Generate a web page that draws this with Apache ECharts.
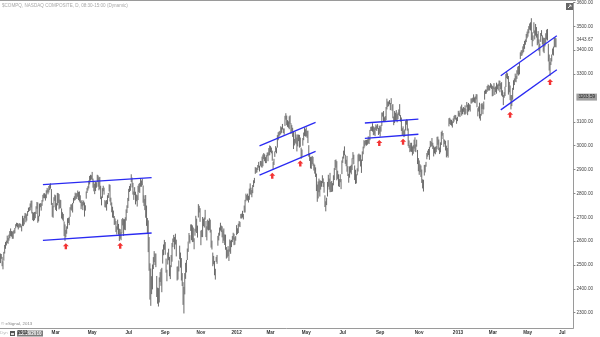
<!DOCTYPE html>
<html>
<head>
<meta charset="utf-8">
<script src="https://cdn.jsdelivr.net/npm/echarts@6/dist/echarts.min.js"></script>
<style>
  html, body { margin: 0; padding: 0; background: #fff; }
  #chart { width: 600px; height: 337px; }
</style>
</head>
<body>
<div id="chart"></div>
<script>
// $COMPQ daily bars, [low, high] per session, Nov 24 2010 .. Jul 3 2013
const bars2010 = [
  [2510,2546],[2528,2544],[2497,2532],[2484,2514],
  [2520,2553],[2550,2582],[2570,2594],[2584,2600],[2594,2621],[2591,2611],[2604,2625],[2614,2640],[2623,2651],[2621,2640],[2612,2638],[2612,2640],[2633,2645],[2635,2653],[2656,2669],[2664,2675],[2660,2674],[2651,2669],[2658,2673],[2662,2672],[2659,2670],[2643,2663]
];
const bars2011 = [
  [2666,2704],[2665,2694],[2672,2704],[2698,2716],[2681,2714],[2688,2710],[2708,2724],[2724,2738],[2728,2741],[2731,2756],[2743,2767],[2718,2768],[2690,2720],[2686,2717],[2690,2720],[2698,2721],[2716,2744],[2738,2762],[2679,2760],[2685,2704],
  [2706,2755],[2744,2757],[2730,2756],[2750,2770],[2768,2792],[2782,2798],[2782,2799],[2772,2794],[2782,2811],[2805,2821],[2798,2814],[2806,2829],[2816,2834],[2822,2840],[2754,2816],[2704,2758],[2700,2744],[2744,2782],[2771,2793],
  [2733,2790],[2728,2757],[2752,2800],[2762,2799],[2735,2795],[2740,2772],[2740,2770],[2697,2735],[2692,2719],[2685,2712],[2623,2680],[2603,2668],[2618,2645],[2633,2660],[2654,2694],[2678,2695],[2669,2700],[2704,2740],[2734,2752],[2730,2752],[2722,2758],[2761,2779],[2772,2786],
  [2774,2801],[2780,2797],[2779,2800],[2788,2810],[2774,2804],[2768,2806],[2762,2790],[2736,2765],[2748,2770],[2732,2762],[2752,2768],[2705,2760],[2730,2748],[2780,2806],[2804,2821],[2814,2828],[2823,2852],[2840,2871],[2856,2876],[2861,2874],
  [2858,2888],[2826,2860],[2811,2848],[2799,2838],[2812,2846],[2826,2845],[2850,2876],[2830,2873],[2815,2865],[2820,2867],[2778,2830],[2752,2785],[2783,2820],[2811,2830],[2797,2822],[2744,2770],[2743,2765],[2730,2770],[2757,2790],[2783,2800],[2810,2836],
  [2768,2834],[2752,2780],[2723,2760],[2701,2742],[2699,2726],[2670,2703],[2672,2693],[2640,2682],[2630,2660],[2650,2688],[2629,2670],[2603,2650],[2612,2648],[2606,2635],[2634,2690],[2668,2695],[2624,2690],[2650,2690],[2648,2698],[2688,2731],[2720,2748],[2741,2779],
  [2770,2817],[2808,2829],[2813,2839],[2850,2878],[2827,2864],[2797,2842],[2775,2806],[2795,2824],[2756,2805],[2769,2793],[2747,2790],[2774,2830],[2808,2838],[2804,2842],[2830,2862],[2830,2852],[2836,2859],[2763,2831],[2749,2790],[2732,2775],
  [2700,2791],[2666,2747],[2633,2695],[2556,2685],[2478,2615],[2357,2505],[2331,2483],[2380,2451],[2400,2500],[2485,2531],[2514,2556],[2502,2546],[2493,2546],[2368,2452],[2340,2403],[2328,2401],[2345,2446],[2431,2468],[2415,2480],[2388,2486],[2508,2563],[2543,2584],[2566,2603],
  [2545,2594],[2470,2525],[2434,2478],[2504,2550],[2522,2566],[2455,2532],[2443,2497],[2493,2540],[2516,2590],[2577,2609],[2598,2624],[2568,2615],[2588,2629],[2538,2604],[2437,2491],[2441,2492],[2475,2517],[2526,2579],[2491,2550],[2437,2527],[2414,2464],
  [2335,2426],[2299,2406],[2379,2464],[2444,2507],[2471,2519],[2523,2567],[2557,2596],[2599,2632],[2592,2623],[2645,2668],[2606,2668],[2598,2664],[2599,2655],[2568,2610],[2625,2650],[2642,2704],[2636,2692],[2617,2663],[2701,2753],[2722,2746],[2683,2736],
  [2585,2642],[2619,2645],[2619,2699],[2665,2692],[2659,2697],[2692,2729],[2619,2683],[2605,2660],[2650,2688],[2647,2683],[2649,2694],[2638,2688],[2575,2646],[2567,2600],[2497,2550],[2505,2536],[2459,2515],[2441,2482],[2515,2532],[2507,2540],[2583,2620],
  [2605,2633],[2625,2655],[2646,2675],[2640,2663],[2618,2660],[2594,2643],[2604,2651],[2586,2626],[2566,2625],[2529,2573],[2533,2562],[2539,2577],[2519,2563],[2558,2605],[2549,2600],[2577,2603],[2598,2619],[2608,2633],[2585,2629],[2587,2614],[2604,2619]
];
const bars2012 = [
  [2627,2665],[2632,2652],[2636,2671],[2664,2682],[2661,2679],[2697,2712],[2697,2713],[2701,2725],[2693,2712],[2722,2747],[2722,2771],[2769,2797],[2775,2791],[2772,2797],[2764,2788],[2775,2818],[2799,2840],[2796,2822],[2786,2812],[2803,2833],
  [2829,2853],[2845,2863],[2884,2908],[2888,2905],[2890,2906],[2900,2917],[2910,2930],[2894,2914],[2918,2934],[2912,2933],[2910,2952],[2916,2961],[2946,2967],[2937,2962],[2929,2950],[2929,2958],[2958,2969],[2937,2970],[2961,2988],[2962,2999],
  [2975,2996],[2970,2990],[2939,2977],[2901,2931],[2921,2943],[2955,2974],[2975,2996],[2970,2990],[2994,3042],[3025,3054],[3040,3057],[3046,3060],[3050,3079],[3056,3075],[3070,3089],[3055,3070],[3048,3070],[3085,3123],[3111,3134],[3088,3124],[3081,3105],[3077,3100],
  [3071,3121],[3094,3125],[3051,3092],[3061,3084],[3039,3073],[2988,3058],[3003,3026],[3014,3057],[3008,3045],[2978,3032],[2999,3045],[3021,3044],[2994,3043],[2997,3032],[2947,2990],[2955,2982],[3002,3030],[3025,3053],[3043,3075],[3040,3067],
  [3041,3075],[3035,3060],[3013,3061],[2956,3000],[2938,2966],[2907,2951],[2905,2951],[2925,2955],[2918,2951],[2898,2923],[2885,2918],[2871,2907],[2812,2881],[2767,2835],[2781,2848],[2807,2860],[2789,2852],[2818,2852],[2830,2850],[2845,2874],[2829,2861],[2805,2846],
  [2745,2790],[2727,2765],[2753,2780],[2789,2846],[2830,2876],[2818,2860],[2807,2884],[2808,2846],[2808,2850],[2810,2841],[2836,2874],[2858,2904],[2900,2938],[2910,2940],[2857,2933],[2863,2893],[2832,2878],[2829,2858],[2849,2878],[2820,2858],[2883,2936],
  [2930,2952],[2948,2977],[2962,2995],[2926,2960],[2916,2939],[2893,2955],[2875,2912],[2847,2880],[2868,2911],[2889,2913],[2882,2918],[2900,2945],[2946,2971],[2924,2960],[2858,2915],[2842,2897],[2844,2878],[2878,2903],[2894,2961],[2936,2965],[2938,2961],
  [2915,2960],[2888,2940],[2938,2974],[2966,2994],[2991,3021],[2999,3018],[3006,3022],[3002,3022],[3006,3024],[3011,3037],[3009,3032],[3025,3064],[3064,3077],[3064,3078],[3061,3092],[3046,3079],[3048,3073],[3042,3077],[3068,3087],[3064,3082],[3073,3088],[3047,3072],[3052,3082],
  [3040,3078],[3061,3084],[3085,3137],[3124,3137],[3103,3143],[3101,3117],[3102,3122],[3109,3160],[3154,3195],[3164,3183],[3168,3183],[3175,3189],[3151,3177],[3175,3197],[3149,3170],[3117,3172],[3088,3120],[3097,3143],[3107,3136],
  [3106,3147],[3100,3130],[3114,3137],[3131,3150],[3126,3172],[3103,3126],[3064,3116],[3047,3071],[3047,3079],[3038,3061],[3041,3066],[3066,3103],[3090,3108],[3065,3107],[3000,3070],[2992,3020],[2975,3000],[2978,3010],[2976,3010],[2961,2995],[2968,3000],
  [2990,3023],[2978,3033],[2975,3003],[2998,3023],[2925,2980],[2895,2946],[2880,2936],[2891,2920],[2871,2915],[2846,2898],[2823,2857],[2810,2855],[2877,2917],[2890,2918],[2914,2930],[2945,2967],[2956,2977],[2963,2984],[2943,2993],[2995,3018],[2998,3014],
  [3000,3030],[2988,3010],[2957,2998],[2970,2991],[2966,2993],[2975,2996],[2987,3035],[3006,3036],[2983,3024],[2967,2990],[2974,3012],[3005,3056],[3044,3061],[3030,3051],[2997,3026],[3008,3022],[2982,3018],[2953,2998],[2959,2988],[2952,3021]
];
const bars2013 = [
  [3083,3113],[3093,3115],[3089,3108],[3086,3106],[3078,3100],[3097,3112],[3103,3123],[3113,3127],[3111,3126],[3094,3115],[3105,3119],[3124,3144],[3125,3136],[3122,3145],[3144,3162],[3128,3170],[3134,3154],[3144,3160],[3133,3156],[3132,3167],[3136,3154],
  [3162,3181],[3130,3170],[3145,3177],[3151,3171],[3145,3170],[3178,3196],[3180,3196],[3184,3199],[3186,3213],[3182,3200],[3180,3204],[3196,3214],[3163,3213],[3125,3155],[3145,3162],[3116,3178],[3107,3131],[3128,3173],[3156,3177],
  [3134,3171],[3154,3183],[3195,3228],[3219,3233],[3220,3233],[3228,3248],[3235,3254],[3232,3252],[3234,3248],[3245,3260],[3240,3255],[3209,3249],[3211,3246],[3239,3260],[3215,3242],[3227,3246],[3220,3262],[3239,3254],[3233,3258],[3252,3271],
  [3226,3270],[3239,3260],[3212,3264],[3207,3230],[3172,3210],[3203,3222],[3210,3245],[3248,3298],[3285,3307],[3281,3301],[3216,3290],[3226,3265],[3193,3250],[3154,3210],[3168,3210],[3195,3240],[3236,3272],[3256,3280],[3270,3300],[3268,3290],[3282,3314],[3301,3329],
  [3296,3332],[3301,3346],[3365,3389],[3378,3397],[3380,3399],[3389,3414],[3395,3424],[3408,3437],[3425,3443],[3436,3466],[3452,3476],[3459,3486],[3473,3499],[3488,3510],[3485,3515],[3445,3532],[3418,3473],[3440,3460],[3473,3515],[3447,3481],[3463,3508],[3455,3495],
  [3423,3466],[3430,3478],[3398,3443],[3379,3425],[3437,3470],[3461,3482],[3426,3460],[3396,3451],[3390,3449],[3418,3450],[3432,3469],[3447,3484],[3443,3487],[3355,3425],[3317,3380],[3295,3348],[3340,3365],[3355,3380],[3383,3405],[3380,3413],
  [3414,3451],[3416,3451],[3414,3448]
];

const lastClose = 3443.67;
const markedPrice = 3203.59;
const priceTicks = [2300, 2400, 2500, 2600, 2700, 2800, 2900, 3000, 3100, 3300, 3400, 3500, 3600];

// Channel lines: [startDate, startPrice, endDate, endPrice]
const channelLines = [
  ['2011-02-07', 2837, '2011-08-10', 2866],
  ['2011-02-07', 2603, '2011-08-10', 2634],
  ['2012-02-10', 2999, '2012-05-16', 3098],
  ['2012-02-10', 2877, '2012-05-16', 2976],
  ['2012-08-08', 3095, '2012-11-08', 3111],
  ['2012-08-08', 3031, '2012-11-08', 3048],
  ['2013-04-02', 3293, '2013-07-05', 3461],
  ['2013-04-02', 3150, '2013-07-05', 3318]
];
// Support touches marked with arrows: [date, price]
const supportArrows = [
  ['2011-03-17', 2579], ['2011-06-17', 2581],
  ['2012-03-05', 2874], ['2012-04-20', 2925],
  ['2012-08-31', 3011], ['2012-10-11', 3016],
  ['2013-04-17', 3130], ['2013-06-24', 3267]
];

const firstSession = '2010-11-24';
const blankSessions = 20;
const marketHolidays = [
  '2010-11-25','2010-12-24','2011-01-17','2011-02-21','2011-04-22','2011-05-30','2011-07-04',
  '2011-09-05','2011-11-24','2011-12-26','2012-01-02','2012-01-16','2012-02-20','2012-04-06',
  '2012-05-28','2012-07-04','2012-09-03','2012-10-29','2012-10-30','2012-11-22','2012-12-25',
  '2013-01-01','2013-01-21','2013-02-18','2013-03-29','2013-05-27','2013-07-04'
];
const monthNames = ['Jan','Feb','Mar','Apr','May','Jun','Jul','Aug','Sep','Oct','Nov','Dec'];
// extra left padding (px) for some month labels on the time scale
const labelPad = { '2012-11': 10, '2013-01': 18, '2013-03': 20, '2013-05': 18, '2013-07': 16 };

const bars = [].concat(bars2010, bars2011, bars2012, bars2013);

function tradingDays(start, count, holidays) {
  const out = [];
  const d = new Date(start + 'T12:00:00Z');
  while (out.length < count) {
    const dow = d.getUTCDay();
    const s = d.toISOString().slice(0, 10);
    if (dow !== 0 && dow !== 6 && holidays.indexOf(s) < 0) out.push(s);
    d.setUTCDate(d.getUTCDate() + 1);
  }
  return out;
}
const sessions = tradingDays(firstSession, bars.length + blankSessions, marketHolidays);

function isLabelSession(i) {
  if (i === 0) return false;
  const m = +sessions[i].slice(5, 7);
  const pm = +sessions[i - 1].slice(5, 7);
  return m !== pm && m % 2 === 1;
}

const barData = bars.map((b, i) => [i, b[0], b[1]]);

const FONT = 'Liberation Sans, Arial, sans-serif';
const chart = echarts.init(document.getElementById('chart'), null, { renderer: 'canvas' });

const series = [{
  type: 'custom',
  name: '$COMPQ',
  data: barData,
  encode: { x: 0, y: [1, 2] },
  clip: true,
  renderItem: function (params, api) {
    const lo = api.coord([api.value(0), api.value(1)]);
    const hi = api.coord([api.value(0), api.value(2)]);
    return {
      type: 'line',
      shape: { x1: lo[0], y1: lo[1] + 0.5, x2: hi[0], y2: hi[1] - 0.5 },
      style: { stroke: '#6a6a6a', lineWidth: 1 }
    };
  }
}];

channelLines.forEach(function (l) {
  series.push({
    type: 'line',
    data: [[l[0], l[1]], [l[2], l[3]]],
    symbol: 'none',
    silent: true,
    lineStyle: { color: '#2a2af2', width: 1.3 },
    z: 3
  });
});

series.push({
  type: 'scatter',
  data: supportArrows,
  symbol: 'path://M5,0 L10,5 L7,5 L7,10 L3,10 L3,5 L0,5 Z',
  symbolSize: [6, 6],
  itemStyle: { color: '#f00000' },
  silent: true,
  z: 4
});

const padRich = {};
[0, 10, 16, 18, 20].forEach(function (p) {
  padRich['p' + p] = { padding: [0, 0, 0, p], fontFamily: FONT, fontSize: 4.6, fontWeight: 'bold', color: '#333' };
});

chart.setOption({
  animation: false,
  backgroundColor: '#fff',
  grid: { left: 0, right: 24, top: 1, bottom: 9, containLabel: false },
  xAxis: {
    type: 'category',
    data: sessions,
    boundaryGap: true,
    axisLine: { show: true, lineStyle: { color: '#9a9a9a', width: 1 } },
    axisTick: { show: false },
    axisLabel: {
      interval: function (i) { return isLabelSession(i); },
      formatter: function (v) {
        const m = +v.slice(5, 7);
        const txt = m === 1 ? v.slice(0, 4) : monthNames[m - 1];
        const p = labelPad[v.slice(0, 7)] || 0;
        return '{p' + p + '|' + txt + '}';
      },
      fontFamily: FONT, fontSize: 4.6, fontWeight: 'bold', color: '#333',
      margin: 2,
      rich: padRich
    },
    splitLine: { show: false }
  },
  yAxis: {
    type: 'value',
    position: 'right',
    min: 2236,
    max: 3600,
    axisLine: { show: true, lineStyle: { color: '#9a9a9a', width: 1 } },
    axisTick: { show: true, length: 2, customValues: priceTicks, lineStyle: { color: '#888' } },
    axisLabel: {
      customValues: priceTicks.concat([lastClose, markedPrice]),
      formatter: function (v) {
        const s = v.toFixed(2);
        return v === markedPrice ? '{box|' + s + '}' : s;
      },
      fontFamily: FONT, fontSize: 4.6, color: '#444', margin: 3,
      rich: {
        box: { backgroundColor: '#a0a0a0', color: '#222', fontSize: 4.6, fontFamily: FONT, padding: [1, 2, 1, 2] }
      }
    },
    splitLine: { show: false }
  },
  series: series,
  graphic: [
    { type: 'line', shape: { x1: 0, y1: 0.5, x2: 576, y2: 0.5 }, style: { stroke: '#9a9a9a', lineWidth: 1 } },
    { type: 'text', left: 2, top: 3, style: { text: '$COMPQ, NASDAQ COMPOSITE, D, 08:30-15:00 (Dynamic)', fontFamily: FONT, fontSize: 4.6, fill: '#a8a8a8' } },
    { type: 'text', left: 1, top: 322, style: { text: '\u00a9 eSignal, 2013', fontFamily: FONT, fontSize: 4.4, fill: '#888' } },
    { type: 'text', left: 0, top: 331, style: { text: 'Dyn', fontFamily: FONT, fontSize: 4.4, fill: '#bbb' } },
    { type: 'rect', shape: { x: 10, y: 331, width: 5, height: 5 }, style: { fill: '#555' } },
    { type: 'rect', shape: { x: 11, y: 333, width: 3, height: 2 }, style: { fill: '#ddd' } },
    { type: 'rect', shape: { x: 17, y: 330.5, width: 26, height: 6 }, style: { fill: '#7c7c7c' } },
    { type: 'text', x: 30, y: 333.7, style: { text: '12/16/2010', fontFamily: FONT, fontSize: 4.6, fontWeight: 'bold', fill: '#fff', align: 'center', verticalAlign: 'middle' } },
    { type: 'rect', shape: { x: 566, y: 3, width: 7, height: 7 }, style: { fill: '#666' } },
    { type: 'polyline', shape: { points: [[568, 8], [571, 5]] }, style: { stroke: '#eee', lineWidth: 1 } },
    { type: 'polyline', shape: { points: [[569, 5], [571, 5], [571, 7]] }, style: { stroke: '#eee', fill: null, lineWidth: 0.8 } }
  ]
});
</script>
</body>
</html>
